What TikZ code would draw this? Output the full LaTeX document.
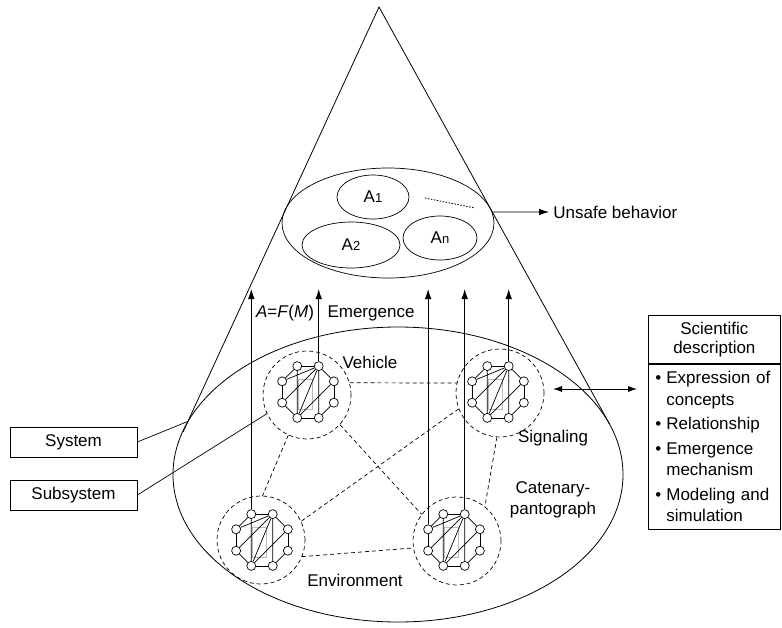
\documentclass[tikz,border=0pt]{standalone}
\usepackage{fontspec}
\setmainfont{Liberation Sans}
\usetikzlibrary{arrows.meta,calc,shapes.geometric}

\newcommand{\subsys}[3]{%
  \node[ring] (#1) at (#2) {};
  \draw[gray!55,line width=0.6pt] ($(#3)+(-10pt,13pt)$) rectangle ($(#3)+(4pt,-17pt)$);
  \foreach \k in {0,...,7}{
    \node[sn] (#1-\k) at ($(#3)+({22.5+45*\k}:28pt)$) {};
  }
  \foreach \k [evaluate=\k as \j using {int(mod(\k+1,8))}] in {0,...,7}{
    \draw[inner] (#1-\k) -- (#1-\j);
  }
  \draw[inner] (#1-1) -- (#1-5) (#1-1) -- (#1-4) (#1-1) -- (#1-6)
               (#1-2) -- (#1-5) (#1-0) -- (#1-5) (#1-3) -- (#1-1);
}
\newcommand{\bul}{\makebox[11pt][l]{•}}

\begin{document}
\begin{tikzpicture}[x=1pt,y=-1pt,
  font=\fontsize{17}{20}\selectfont,
  line width=0.8pt,
  sn/.style={circle,draw,fill=white,inner sep=0pt,minimum size=9pt,line width=0.7pt},
  ring/.style={circle,draw,dash pattern=on 4pt off 3pt,inner sep=0pt,minimum size=88pt,line width=0.7pt},
  inner/.style={line width=0.7pt},
  link/.style={dash pattern=on 4pt off 3pt,line width=0.7pt},
  arr/.style={-{Latex[length=10pt,width=6.5pt]}},
  lbl/.style={inner sep=0pt},
  box/.style={draw,inner sep=0pt,line width=0.7pt},
  aell/.style={ellipse,draw,inner sep=0pt,line width=0.7pt}]
\useasboundingbox (0,0) rectangle (782,627);

% cone and system ellipse
\coordinate (apex) at (379,7);
\coordinate (cl) at (183,432);
\coordinate (cr) at (609.5,424);
\draw (cl) -- (apex) -- (cr);
\draw (398,474.5) ellipse [x radius=225, y radius=147.5];

% top ellipse with behaviours
\node[aell,minimum width=212pt,minimum height=110pt] (top) at (388,223) {};
\node[aell,minimum width=72pt,minimum height=44pt] (a1) at (373,197) {A{\fontsize{13}{13}\selectfont 1}};
\node[aell,minimum width=98pt,minimum height=46pt] (a2) at (351,245) {A{\fontsize{13}{13}\selectfont 2}};
\node[aell,minimum width=74pt,minimum height=44pt] (an) at (440,238) {A{\fontsize{13}{13}\selectfont n}};
\coordinate (d1) at (425,198);
\coordinate (d2) at (475,208);
\draw[dash pattern=on 1.5pt off 1.5pt] (d1) -- (d2);
\node[lbl,anchor=west] (unsafe) at (553,212) {Unsafe behavior};
\draw[arr] (top.6) -- (unsafe.west -| 549,0);

% subsystems
\subsys{veh}{307,395}{308,392}
\subsys{sig}{500,393}{498,392}
\subsys{env}{261,540}{262,540}
\subsys{cat}{457,541}{454,540}

% dashed relations
\draw[link] (veh.16) -- (sig.167);
\draw[link] (veh.-42) -- (cat.143);
\draw[link] (veh.-115) -- (env.88);
\draw[link] (sig.-159) -- (env.25);
\draw[link] (sig.-94) -- (cat.51);
\draw[link] (env.-22) -- (cat.-171);

% emergence arrows
\coordinate (tip) at (0,289);
\draw[arr] (env-2.north) -- (env-2.north |- tip);
\draw[arr] (veh-1.north) -- (veh-1.north |- tip);
\draw[arr] (cat-3.north) -- (cat-3.north |- tip);
\draw[arr] (cat-1.north) -- (cat-1.north |- tip);
\draw[arr] (sig-1.north) -- (sig-1.north |- tip);

% labels
\node[lbl] (afm) at (285,313) {\textit{A}=\textit{F}(\textit{M})};
\node[lbl] (emg) at (371,313) {Emergence};
\node[lbl] (vehl) at (370,362) {Vehicle};
\node[lbl] (sigl) at (553,438) {Signaling};
\node[lbl,align=center,font=\fontsize{17}{21}\selectfont] (catl) at (553,500) {Catenary-\\pantograph};
\node[lbl] (envl) at (355,580) {Environment};

% left boxes
\node[box,minimum width=127pt,minimum height=30pt] (system) at (73.5,442) {System};
\node[box,minimum width=127pt,minimum height=30pt] (subsystem) at (73.5,495) {Subsystem};
\coordinate (sysend) at ($(apex)!0.975!(cl)$);
\draw[line width=0.7pt] (system.east) -- (sysend);
\draw[line width=0.7pt] (subsystem.east) -- (veh.205);

% scientific description
\node[box,minimum width=132pt,minimum height=48pt,anchor=north west,align=center,
      font=\fontsize{17}{19}\selectfont] (scihead) at (648,315) {Scientific\\description};
\node[box,minimum width=132pt,minimum height=165pt,anchor=north,align=left,
      text width=126pt,inner xsep=3pt,font=\fontsize{17}{21.5}\selectfont] (scilist) at (scihead.south)
  {\hspace*{4pt}\bul Expression of\\\hspace*{4pt}\hspace*{11pt}concepts\\[3pt]
   \hspace*{4pt}\bul Relationship\\[3pt]
   \hspace*{4pt}\bul Emergence\\\hspace*{4pt}\hspace*{11pt}mechanism\\[3pt]
   \hspace*{4pt}\bul Modeling and\\\hspace*{4pt}\hspace*{11pt}simulation};
\coordinate (dal) at (553,389);
\coordinate (dar) at (637,389);
\draw[{Latex[length=9pt,width=6pt]}-{Latex[length=9pt,width=6pt]}] (dal) -- (dar);
\end{tikzpicture}
\end{document}
